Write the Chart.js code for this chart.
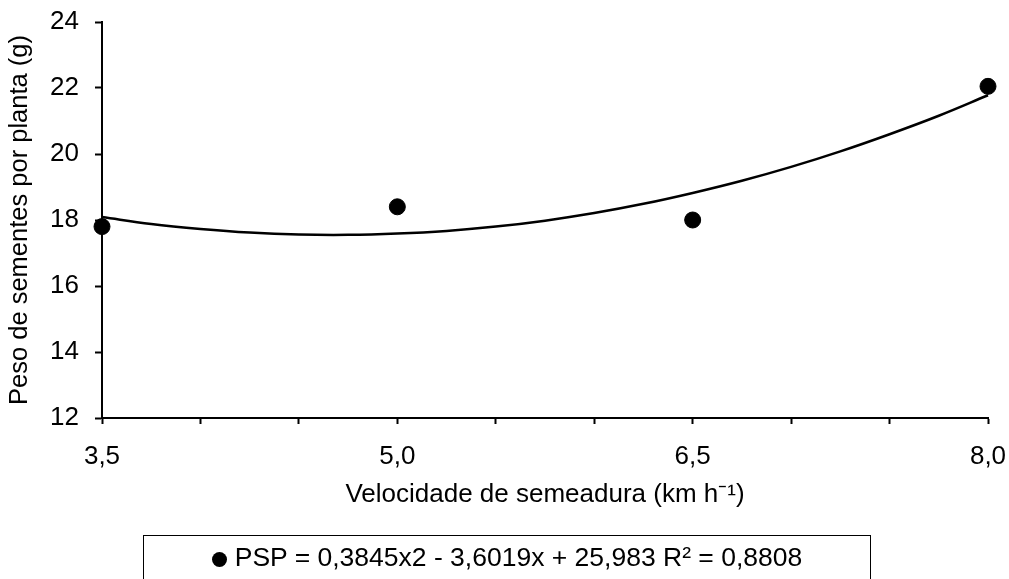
<!DOCTYPE html>
<html>
<head>
<meta charset="utf-8">
<script src="https://cdn.jsdelivr.net/npm/chart.js@4.4.0/dist/chart.umd.min.js"></script>
<style>
  html, body { margin: 0; padding: 0; background: #fff; }
  #wrap { position: relative; width: 1009px; height: 579px; overflow: hidden; }
  #myChart { display: block; }
  #legend {
    position: absolute; left: 143px; top: 535px; width: 728px; height: 60px;
    border: 1px solid #000; box-sizing: border-box;
    font-family: 'Liberation Sans', Arial, sans-serif; font-size: 26.5px; color: #000;
    text-align: center; line-height: 42px; white-space: nowrap;
  }
  #legend .dot {
    display: inline-block; width: 15px; height: 15px; border-radius: 50%;
    background: #000; margin-right: 8px; vertical-align: -1px;
  }
</style>
</head>
<body>
<div id="wrap">
  <canvas id="myChart" width="1009" height="579"></canvas>
  <div id="legend"><span class="dot"></span>PSP = 0,3845x2 - 3,6019x + 25,983 R² = 0,8808</div>
</div>
<script>
// valores observados
const velocidade = [3.5, 5.0, 6.5, 8.0];
const peso = [17.8, 18.4, 18.0, 22.05];

// curva de tendência
const curvaX = [3.5, 3.75, 4.0, 4.25, 4.5, 4.75, 5.0, 5.25, 5.5, 5.75, 6.0, 6.25, 6.5, 6.75, 7.0, 7.25, 7.5, 7.75, 8.0];
const curvaY = [18.09, 17.88, 17.73, 17.62, 17.56, 17.55, 17.59, 17.67, 17.80, 17.98, 18.21, 18.49, 18.82, 19.19, 19.61, 20.08, 20.60, 21.16, 21.78];

const rotulosX = ['3,5', '5,0', '6,5', '8,0'];
const rotulosY = ['12', '14', '16', '18', '20', '22', '24'];

const fonte = { family: "'Liberation Sans', Arial, sans-serif", size: 26 };

const cht = document.getElementById('myChart');

const chart = new Chart(cht, {
    type: 'scatter',
    data: {
        datasets: [{
            label: 'PSP',
            data: velocidade.map((v, i) => ({ x: v, y: peso[i] })),
            backgroundColor: '#000',
            borderColor: '#000',
            pointRadius: 8,
            pointHoverRadius: 8,
            clip: false,
            order: 0
        }, {
            type: 'line',
            label: 'tendencia',
            data: curvaX.map((v, i) => ({ x: v, y: curvaY[i] })),
            borderColor: '#000',
            borderWidth: 2.5,
            pointRadius: 0,
            tension: 0.4,
            fill: false,
            clip: false,
            order: 1
        }]
    },
    options: {
        responsive: false,
        animation: false,
        layout: { padding: { top: 22, right: 21, bottom: 69, left: 0 } },
        scales: {
            x: {
                type: 'linear',
                min: 3.5,
                max: 8,
                // altura fixa e sem margem extra dos rótulos
                afterFit: s => { s.height = 92; s.paddingLeft = 0; s.paddingRight = 0; },
                border: { color: '#000', width: 2 },
                grid: {
                    drawOnChartArea: false, // só as marcas
                    drawTicks: true,
                    tickLength: 6,
                    tickColor: '#000',
                    tickWidth: 2
                },
                ticks: {
                    stepSize: 0.5,
                    autoSkip: false,
                    maxRotation: 0,
                    color: '#000',
                    font: fonte,
                    padding: 17,
                    callback: v => {
                        const t = v.toFixed(1).replace('.', ',');
                        return rotulosX.includes(t) ? t : '';
                    }
                },
                title: {
                    display: true,
                    text: 'Velocidade de semeadura (km h⁻¹)',
                    color: '#000',
                    font: fonte,
                    padding: { top: 0, bottom: 0 }
                }
            },
            y: {
                min: 12,
                max: 24,
                afterFit: s => { s.width = 102; s.paddingTop = 0; s.paddingBottom = 0; },
                border: { color: '#000', width: 2 },
                grid: {
                    drawOnChartArea: false,
                    drawTicks: true,
                    tickLength: 7,
                    tickColor: '#000',
                    tickWidth: 2
                },
                ticks: {
                    stepSize: 2,
                    color: '#000',
                    font: fonte,
                    padding: 16,
                    callback: v => rotulosY.includes(String(v)) ? String(v) : ''
                },
                title: {
                    display: true,
                    text: 'Peso de sementes por planta (g)',
                    color: '#000',
                    font: { family: fonte.family, size: 25.5 },
                    padding: { top: 5, bottom: 0 }
                }
            }
        },
        plugins: {
            legend: { display: false },
            tooltip: { enabled: false }
        }
    }
});
</script>
</body>
</html>
